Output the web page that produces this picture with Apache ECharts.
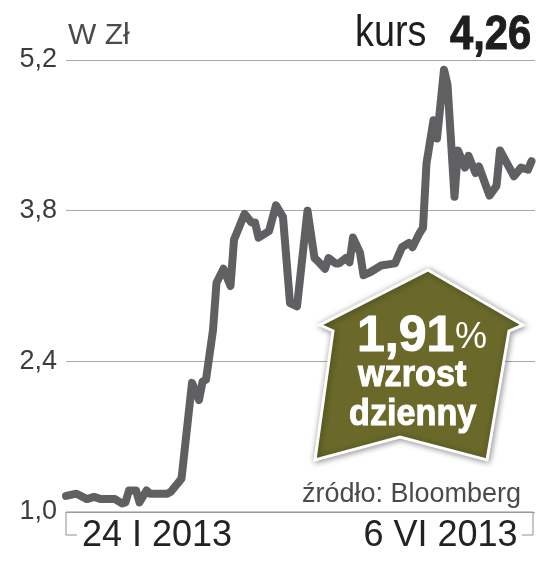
<!DOCTYPE html>
<html>
<head>
<meta charset="utf-8">
<style>
html, body { margin: 0; padding: 0; background: #fff; }
#chart { width: 559px; height: 583px; }
</style>
<script src="https://cdn.jsdelivr.net/npm/echarts@6/dist/echarts.min.js"></script>
</head>
<body>
<div id="chart"></div>
<script>
// days since 24 I 2013
const days = [0, 3, 6, 8, 10, 14, 16, 17, 18, 20, 21, 23, 24, 29, 30, 32, 33, 36, 38, 39, 40, 42, 43, 45, 47, 48, 51, 53, 54, 55, 58, 60, 62, 64, 66, 69, 71, 72, 74, 75, 77, 78, 80, 81, 82, 84, 85, 87, 90, 94, 96, 98, 99, 101, 102, 103, 105, 106, 108, 109, 111, 112, 114, 115, 117, 118, 121, 123, 124, 128, 130, 132, 133];
const prices = [1.15, 1.17, 1.12, 1.14, 1.12, 1.12, 1.08, 1.09, 1.20, 1.20, 1.09, 1.20, 1.17, 1.17, 1.19, 1.27, 1.31, 2.20, 2.04, 2.21, 2.23, 2.69, 3.13, 3.26, 3.10, 3.53, 3.77, 3.69, 3.69, 3.55, 3.61, 3.85, 3.74, 2.94, 2.91, 3.80, 3.36, 3.33, 3.26, 3.36, 3.31, 3.31, 3.36, 3.32, 3.55, 3.41, 3.20, 3.23, 3.29, 3.31, 3.46, 3.50, 3.46, 3.59, 3.64, 4.24, 4.64, 4.47, 5.11, 4.97, 3.93, 4.36, 4.20, 4.31, 4.15, 4.21, 3.94, 4.03, 4.36, 4.12, 4.20, 4.18, 4.26];
const yTicks = [1.0, 2.4, 3.8, 5.2];
const dateLabels = ['24 I 2013', '6 VI 2013'];
const dateLabelDays = [26, 107];

const narrow = '"Liberation Sans Narrow", "Liberation Sans", sans-serif';
const wide = '"Liberation Sans", sans-serif';
const arrowPoints = [[428, 270], [523, 325], [509, 331], [487, 460], [400, 437], [315, 460], [333, 331], [320, 325]];

let chart = echarts.init(document.getElementById('chart'));
chart.setOption({
    animation: false,
    backgroundColor: '#fff',
    grid: { left: 66, right: 24, top: 60, bottom: 71 },
    xAxis: {
        type: 'value',
        min: 0,
        max: 134,
        splitLine: { show: false },
        axisLine: { show: false },
        axisTick: { show: false },
        axisLabel: {
            customValues: dateLabelDays,
            formatter: v => dateLabels[dateLabelDays.indexOf(v)],
            color: '#232326',
            fontFamily: narrow,
            fontSize: 36,
            margin: 6
        }
    },
    yAxis: {
        type: 'value',
        min: yTicks[0],
        max: yTicks[yTicks.length - 1],
        interval: 1.4,
        axisLine: { show: false },
        axisTick: { show: false },
        splitLine: { lineStyle: { color: '#a9a9a9', width: 1 } },
        axisLabel: {
            formatter: v => v.toFixed(1).replace('.', ','),
            color: '#3c3c3e',
            fontFamily: wide,
            fontSize: 27,
            margin: 9
        }
    },
    series: [{
        type: 'line',
        data: days.map((d, i) => [d, prices[i]]),
        showSymbol: false,
        clip: false,
        lineStyle: { color: '#606063', width: 8, cap: 'round', join: 'round' },
        z: 3
    }],
    graphic: [
        // bottom bracket
        { type: 'polyline', z: 4, shape: { points: [[77, 535], [66, 535], [66, 512], [533, 512], [533, 535], [522, 535]] }, style: { stroke: '#8f8f8f', fill: null, lineWidth: 1 } },
        // header
        { type: 'text', z: 5, x: 68, y: 21, style: { text: 'W Zł', font: '30px ' + wide, fill: '#4a4a4f' } },
        { type: 'text', z: 5, x: 355, y: 11, style: { text: 'kurs', font: '45px ' + narrow, fill: '#1e1e20' }, scaleX: 0.84 },
        { type: 'text', z: 5, x: 450, y: 12, style: { text: '4,26', font: 'bold 48px ' + narrow, fill: '#1e1e20', stroke: '#1e1e20', lineWidth: 1 }, scaleX: 0.87 },
        // source
        { type: 'text', z: 5, x: 302, y: 481, style: { text: 'źródło: Bloomberg', font: '27px ' + narrow, fill: '#4a4a4d' } },
        // arrow badge
        {
            type: 'polygon', z: 6,
            shape: { points: arrowPoints },
            style: { fill: '#6a692a', stroke: '#fff', lineWidth: 3, shadowBlur: 6, shadowColor: 'rgba(0,0,0,0.4)', shadowOffsetX: 1, shadowOffsetY: 1 }
        },
        { type: 'text', z: 7, x: 357, y: 312, style: { text: '1,91', font: 'bold 50px ' + wide, fill: '#fff', stroke: '#fff', lineWidth: 1 } },
        { type: 'text', z: 7, x: 455, y: 320, style: { text: '%', font: '36px ' + narrow, fill: '#fff' } },
        { type: 'text', z: 7, x: 358, y: 358, style: { text: 'wzrost', font: 'bold 36px ' + wide, fill: '#fff', stroke: '#fff', lineWidth: 1 }, scaleX: 0.95 },
        { type: 'text', z: 7, x: 349, y: 397, style: { text: 'dzienny', font: 'bold 36px ' + wide, fill: '#fff', stroke: '#fff', lineWidth: 1 }, scaleX: 0.95 }
    ]
});
</script>
</body>
</html>
